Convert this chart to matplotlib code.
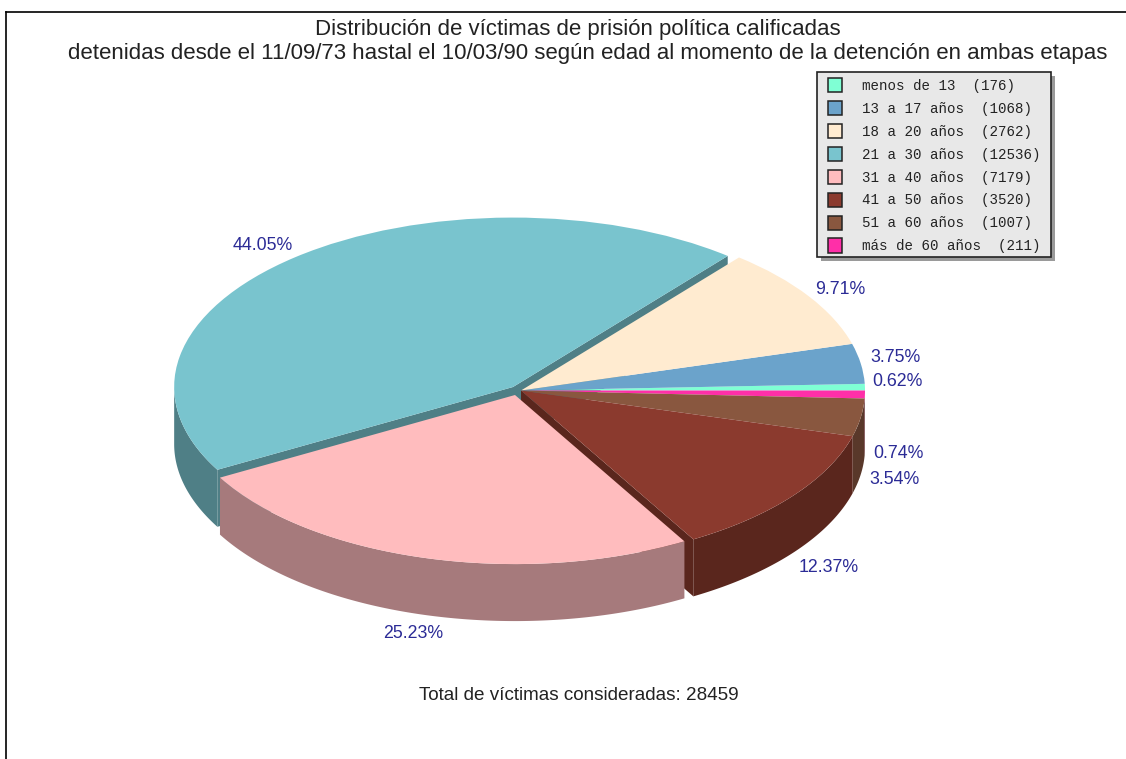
import numpy as np
import matplotlib
matplotlib.use("Agg")
import matplotlib.pyplot as plt
from matplotlib.patches import Patch, Rectangle

categories = ["menos de 13", "13 a 17 años", "18 a 20 años", "21 a 30 años",
              "31 a 40 años", "41 a 50 años", "51 a 60 años", "más de 60 años"]
counts = [176, 1068, 2762, 12536, 7179, 3520, 1007, 211]
pct_labels = ["0.62%", "3.75%", "9.71%", "44.05%", "25.23%", "12.37%", "3.54%", "0.74%"]
top_colors = ["#7FFFD4", "#6BA3CB", "#FFEBD0", "#79C4CE", "#FFBCBE", "#8B3A2E", "#89573F", "#FF2FA8"]
side_colors = ["#4F9E86", "#456A84", "#A69886", "#4F7F86", "#A67A7C", "#5A261D", "#59382A", "#A61F6D"]

W, H = 1126, 759
CX, CY, RX, RY, DEPTH = 521.0, 390.5, 344.0, 172.0, 57.0
# slice centre/radius overrides in picture pixels (index -> (x, y, radius factor))
pulled = {3: (513.0, 387.0, 0.985), 4: (515.0, 395.0, 0.983)}
label_px = [(897, 382), (895, 358), (840, 290), (263, 245), (413, 633), (829, 568), (894, 480), (898, 454)]
z_order = [1, 2, 3, 0, 7, 6, 5, 4]

X = lambda p: (p - CX) / RX
Y = lambda p: (CY - p) / RY

plt.rcParams["font.family"] = ["Liberation Sans", "DejaVu Sans"]
fig = plt.figure(figsize=(W / 100, H / 100), dpi=100, facecolor="white")
ax = fig.add_axes([6 / W, 0, (W - 6) / W, (H - 12) / H])

wedges, _ = ax.pie(counts, colors=top_colors, startangle=0, counterclock=True,
                   wedgeprops={"linewidth": 0})
ax.set_aspect("auto")
ax.set_xlim(X(6), X(W))
ax.set_ylim(Y(H), Y(12))
ax.set_frame_on(True)
for name, sp in ax.spines.items():
    sp.set_visible(name in ("top", "left"))
    sp.set_linewidth(1.2)
    sp.set_color("black")
    sp.set_zorder(30)

edges = np.concatenate([[0], np.cumsum(counts)]) / np.sum(counts) * 360.0
d = DEPTH / RY

for i, w in enumerate(wedges):
    cx, cy, rf = X(CX), Y(CY), 1.0
    if i in pulled:
        px, py, rf = pulled[i]
        cx, cy = X(px), Y(py)
        w.set_center((cx, cy))
        w.set_radius(rf)
    base = 2 * z_order[i] + 2
    w.set_zorder(base + 1)
    a0, a1 = edges[i], edges[i + 1]

    # outer wall, only the part facing the viewer
    lo, hi = max(a0, 180.0), min(a1, 360.0)
    if hi > lo:
        t = np.radians(np.linspace(lo, hi, 160))
        xs = cx + rf * np.cos(t)
        ys = cy + rf * np.sin(t)
        ax.fill(np.r_[xs, xs[::-1]], np.r_[ys, ys[::-1] - d],
                color=side_colors[i], lw=0, zorder=base)

    # cut walls on slices where a neighbour's gap exposes them
    for ang in ([a0, a1] if i == 3 else [a0] if i == 5 else []):
        t = np.radians(ang)
        ex, ey = cx + rf * np.cos(t), cy + rf * np.sin(t)
        ax.fill([cx, ex, ex, cx], [cy, ey, ey - d, cy - d],
                color=side_colors[i], lw=0, zorder=base)

for (lx, ly), txt in zip(label_px, pct_labels):
    ax.text(X(lx), Y(ly), txt, color="#2B2B96", fontsize=12.8, ha="center", va="center", zorder=40)

# legend box and its shadow
lx0, ly0, lx1, ly1 = 817, 72, 1051, 257
ax.add_patch(Rectangle((X(lx0 + 4), Y(ly1 + 4)), X(lx1 + 4) - X(lx0 + 4), Y(ly0 + 4) - Y(ly1 + 4),
                       facecolor="#9A9A9A", edgecolor="none", zorder=44))
ax.add_patch(Rectangle((X(lx0), Y(ly1)), X(lx1) - X(lx0), Y(ly0) - Y(ly1),
                       facecolor="#E8E8E8", edgecolor="#222222", linewidth=1.2, zorder=45))

handles = [Patch(facecolor=c, edgecolor="#222222", linewidth=1.1) for c in top_colors]
labels = [f"{c}  ({n})" for c, n in zip(categories, counts)]
leg = ax.legend(handles, labels, loc="upper left",
                bbox_to_anchor=(817 / W, 1 - 67.5 / H), bbox_transform=fig.transFigure,
                prop={"family": "Liberation Mono", "size": 10.2},
                frameon=False, borderaxespad=0, borderpad=0.75,
                handlelength=1.0, handleheight=1.15, handletextpad=1.4, labelspacing=0.57)
leg.set_zorder(50)
for t in leg.get_texts():
    t.set_color("#222222")

title_kw = dict(fontsize=16.0, color="#222222", ha="center", va="center")
fig.text(577.5 / W, 1 - 29.5 / H, "Distribución de víctimas de prisión política calificadas", **title_kw)
fig.text(588 / W, 1 - 53.5 / H,
         "detenidas desde el 11/09/73 hastal el 10/03/90 según edad al momento de la detención en ambas etapas",
         **title_kw)
fig.text(578.5 / W, 1 - 696 / H, f"Total de víctimas consideradas: {sum(counts)}",
         fontsize=13.6, color="#222222", ha="center", va="center")

fig.savefig("out.png", dpi=100)
